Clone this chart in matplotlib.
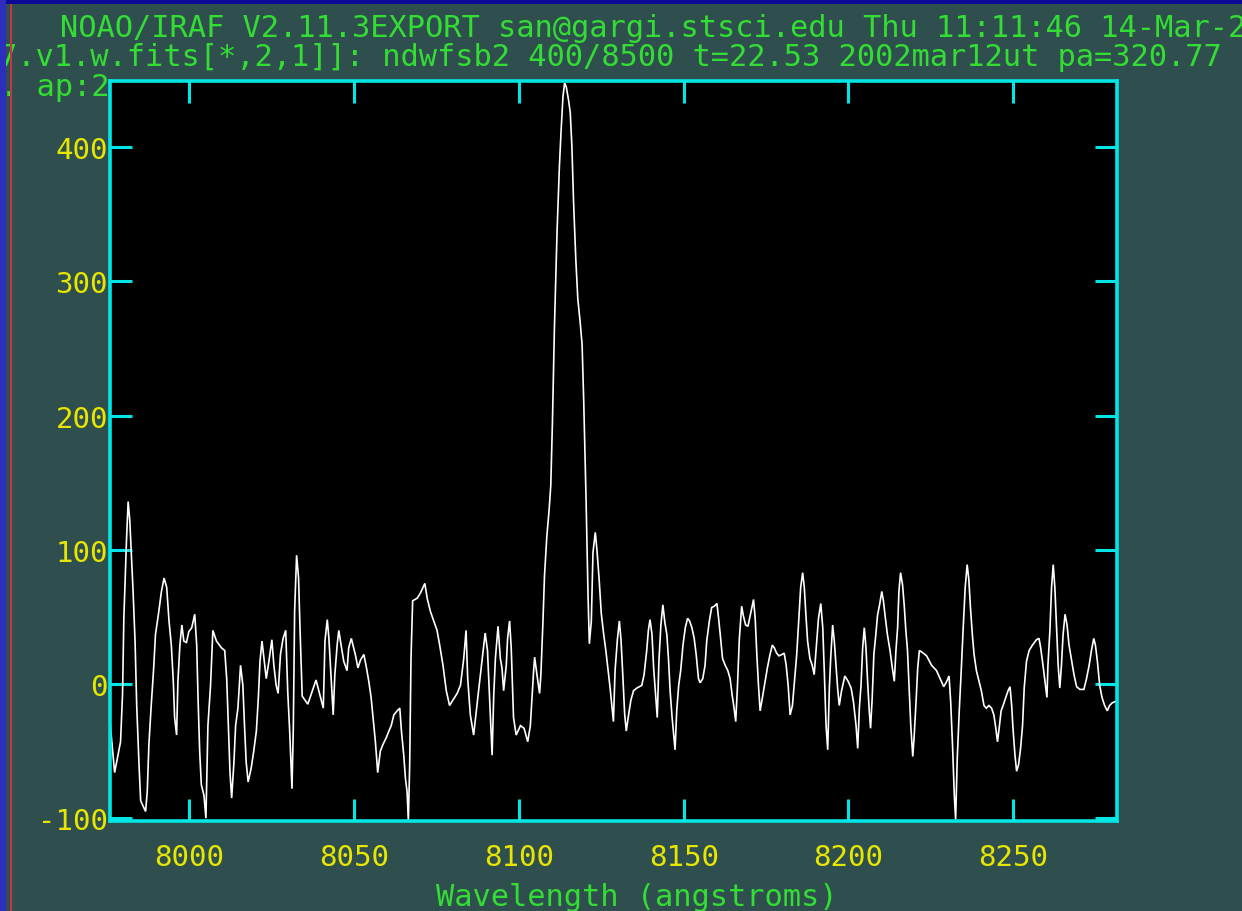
import matplotlib
matplotlib.use("Agg")
import matplotlib.pyplot as plt
from matplotlib.patches import Rectangle

# ---------------- data ----------------
wavelength = [
    7976.0, 7977.4, 7978.4, 7979.2, 7979.8, 7980.2, 7981.0, 7981.5, 7982.0, 7982.5,
    7983.0, 7983.6, 7984.1, 7984.8, 7985.3, 7986.8, 7987.3, 7987.8, 7988.5, 7989.2,
    7989.8, 7990.8, 7991.6, 7992.4, 7993.2, 7993.9, 7994.6, 7995.2, 7995.6, 7996.2,
    7996.6, 7997.2, 7997.8, 7998.4, 7999.2, 7999.9, 8000.8, 8001.7, 8002.3, 8002.7,
    8003.2, 8003.7, 8004.5, 8005.1, 8005.7, 8006.5, 8007.2, 8008.3, 8009.8, 8010.8,
    8011.4, 8011.9, 8012.4, 8012.9, 8013.6, 8014.1, 8014.8, 8015.6, 8016.3, 8016.8,
    8017.3, 8017.9, 8018.8, 8019.6, 8020.4, 8021.0, 8021.5, 8022.1, 8022.7, 8023.4,
    8024.2, 8025.1, 8025.7, 8026.4, 8027.0, 8027.7, 8028.5, 8029.3, 8029.9, 8030.5,
    8031.2, 8031.6, 8032.0, 8032.6, 8033.2, 8033.6,
    8034.3, 8036.0, 8038.5, 8040.7, 8041.2, 8041.9, 8042.4, 8042.9, 8043.4, 8043.7,
    8044.2, 8044.9, 8045.4, 8046.1, 8046.9, 8047.9, 8048.4, 8049.2, 8050.5, 8051.2,
    8052.0, 8053.0, 8053.8, 8054.5, 8055.2, 8055.8, 8056.5, 8057.2, 8058.0, 8058.8,
    8059.8, 8060.6, 8061.3, 8062.1, 8063.1, 8063.9, 8064.4, 8065.1, 8065.6, 8066.1,
    8066.5, 8066.9, 8067.3, 8067.8, 8069.2, 8070.2, 8071.5, 8072.2, 8073.2, 8074.2,
    8075.2, 8076.0, 8077.0, 8078.0, 8079.0, 8080.0, 8081.3, 8082.3, 8083.3, 8084.0,
    8084.5, 8085.3, 8086.3, 8087.1, 8087.8, 8088.9, 8089.8, 8090.5, 8091.1, 8091.9,
    8092.4, 8092.9, 8093.7, 8094.4, 8094.9, 8095.4, 8096.2, 8096.6, 8097.2, 8097.7,
    8098.4, 8099.2,
    8100.5, 8101.6, 8102.7, 8103.5, 8104.0, 8104.5, 8104.8, 8105.5, 8106.3, 8106.7,
    8107.3, 8107.8, 8108.5, 8109.2, 8109.7, 8110.2, 8110.8, 8111.6, 8112.3, 8112.8,
    8113.4, 8113.9, 8114.4, 8115.1, 8115.6, 8116.1, 8116.6, 8117.3, 8117.9, 8118.6,
    8119.2, 8119.7, 8120.4, 8121.0, 8121.4,
    8122.0, 8122.5, 8123.2, 8123.7, 8124.4, 8125.0, 8125.7, 8126.4, 8127.1, 8127.7,
    8128.7, 8129.2, 8129.9, 8130.5, 8131.0, 8131.6, 8132.1, 8132.6, 8133.3, 8134.0,
    8134.8, 8135.8, 8137.3, 8138.0, 8138.8, 8139.3, 8139.8, 8140.4, 8140.9, 8141.5,
    8142.0, 8142.5, 8143.1, 8143.7, 8144.3, 8144.9, 8145.4, 8145.9, 8146.5, 8147.0,
    8147.4, 8147.9, 8148.5, 8149.1, 8149.8, 8150.5, 8151.2, 8151.8, 8152.5, 8153.2,
    8153.8, 8154.5, 8155.0, 8155.8, 8156.5, 8157.0, 8157.8, 8158.5, 8159.3, 8160.1,
    8160.6, 8161.1, 8161.8, 8162.6, 8163.4, 8164.1, 8164.7, 8165.3, 8165.8, 8166.3,
    8166.9, 8167.6, 8168.1, 8168.8, 8169.5, 8170.2, 8170.7, 8171.2, 8171.7, 8172.2,
    8172.7, 8173.2, 8173.9, 8174.7, 8175.4, 8176.2, 8176.9, 8177.5, 8178.2, 8178.9,
    8179.8, 8180.5, 8181.1, 8181.7, 8182.3, 8183.0, 8183.6, 8184.3, 8184.9, 8185.5,
    8186.1, 8186.6, 8187.1, 8187.6, 8188.3, 8189.0, 8189.6, 8190.4, 8190.9, 8191.6,
    8192.2, 8192.7, 8193.2, 8193.7, 8194.2, 8194.6, 8195.2, 8195.7, 8196.2, 8196.7,
    8197.2, 8197.9, 8198.9, 8199.9,
    8200.8, 8201.5, 8202.3, 8202.8, 8203.3, 8203.8, 8204.3, 8204.8, 8205.3, 8205.8,
    8206.3, 8206.7, 8207.2, 8207.7, 8208.3, 8208.8, 8209.5, 8210.1, 8210.6, 8211.1,
    8211.8, 8212.6, 8213.3, 8213.9, 8214.4, 8214.9, 8215.3, 8215.8, 8216.4, 8216.9,
    8217.4, 8217.9, 8218.4, 8218.9, 8219.5, 8219.9, 8220.5, 8221.0, 8221.5, 8222.7,
    8223.7, 8225.2, 8226.7, 8228.0, 8228.9, 8229.8, 8230.5, 8231.0, 8231.6, 8232.1,
    8232.5, 8233.0, 8233.6, 8234.2, 8234.8, 8235.4, 8236.0, 8236.5, 8237.0, 8237.6,
    8238.1, 8238.8, 8239.5, 8240.3, 8241.1, 8241.8, 8242.6, 8243.4, 8244.1, 8244.7,
    8245.2, 8245.7, 8246.3, 8246.9, 8247.7, 8248.4, 8249.0, 8249.5, 8249.9, 8250.5,
    8251.0, 8251.6, 8252.2, 8252.8, 8253.3, 8254.0, 8254.8, 8255.8, 8257.0, 8257.8,
    8258.3, 8259.0, 8259.6, 8260.2, 8260.5, 8261.1, 8261.6, 8262.1, 8262.6, 8263.1,
    8263.6, 8264.1, 8264.6, 8265.1, 8265.7, 8266.3, 8266.9, 8267.7, 8268.4, 8269.2,
    8270.2, 8271.4, 8272.2, 8273.0, 8273.7, 8274.4, 8274.9, 8275.5, 8276.2, 8276.9,
    8277.7, 8278.5, 8279.2, 8280.0, 8281.0, 8281.6,
]

flux = [
    -28, -66, -53, -43, -8, 49, 107, 136, 122, 96,
    69, 32, -16, -60, -87, -95, -80, -45, -16, 10,
    37, 54, 69, 79, 72, 47, 29, 2, -25, -38,
    2, 29, 44, 32, 31, 39, 42, 52, 29, -10,
    -50, -75, -83, -100, -31, -1, 40, 32, 27, 25,
    4, -31, -66, -85, -58, -31, -18, 14, -1, -31,
    -58, -73, -63, -50, -35, -10, 17, 32, 19, 4,
    17, 33, 14, -1, -7, 22, 34, 40, -5, -35,
    -78, -33, 54, 96, 79, 44,
    -9, -15, 3, -18, 32, 48, 34, 12, -10, -23,
    7, 29, 40, 29, 17, 10, 27, 34, 21, 12,
    18, 22, 12, 2, -10, -25, -43, -66, -50, -45,
    -40, -35, -31, -23, -20, -18, -35, -53, -70, -80,
    -102, -60, 19, 62, 64, 68, 75, 64, 54, 47,
    40, 29, 14, -5, -16, -12, -7, -1, 19, 40,
    4, -23, -38, -20, -5, 19, 38, 25, -8, -53,
    -8, 19, 43, 19, 12, -5, 14, 34, 47, 27,
    -25, -38,
    -31, -33, -43, -31, -10, 10, 20, 7, -7, 7,
    45, 81, 110, 130, 148, 195, 265, 337, 385, 411,
    438, 448, 445, 435, 426, 401, 360, 316, 287, 270,
    253, 210, 138, 66, 30,
    47, 98, 113, 100, 77, 53, 38, 25, 10, -3,
    -28, 10, 33, 47, 33, 4, -22, -35, -23, -12,
    -5, -3, -1, 7, 25, 40, 48, 37, 12, -8,
    -25, 17, 44, 59, 46, 37, 19, -5, -25, -38,
    -49, -20, -1, 10, 29, 42, 49, 47, 42, 34,
    22, 4, 1, 4, 14, 32, 47, 57, 58, 60,
    49, 37, 19, 14, 10, 4, -8, -18, -28, -3,
    34, 58, 51, 44, 43, 51, 57, 63, 49, 22,
    -1, -20, -10, 2, 12, 22, 29, 27, 23, 21,
    22, 23, 14, -1, -23, -16, 2, 22, 47, 72,
    83, 72, 51, 32, 19, 14, 7, 33, 49, 60,
    42, 7, -31, -49, -3, 19, 44, 32, 14, -3,
    -16, -5, 6, 2,
    -3, -13, -31, -48, -18, -1, 27, 42, 27, 2,
    -20, -33, -10, 22, 37, 51, 60, 69, 62, 51,
    37, 25, 12, 2, 25, 42, 69, 83, 74, 59,
    40, 25, -3, -31, -54, -40, -13, 12, 25, 23,
    21, 14, 10, 3, -2, 2, 6, -13, -48, -83,
    -101, -55, -20, 10, 42, 72, 89, 78, 57, 36,
    22, 10, 3, -5, -16, -18, -16, -18, -23, -33,
    -43, -33, -20, -16, -10, -5, -2, -16, -33, -53,
    -65, -60, -48, -31, -3, 17, 25, 29, 33, 34,
    27, 14, 2, -10, 14, 40, 72, 89, 72, 42,
    14, -3, 14, 37, 52, 44, 29, 17, 7, -2,
    -4, -4, 4, 14, 25, 34, 29, 17, -1, -10,
    -16, -20, -16, -14, -13, -12,
]

x_ticks = [8000, 8050, 8100, 8150, 8200, 8250]
y_ticks = [-100, 0, 100, 200, 300, 400]
x_limits = (7976.0, 8281.45)
y_limits = (-101.7, 449.4)

title_lines = [
    "NOAO/IRAF V2.11.3EXPORT san@gargi.stsci.edu Thu 11:11:46 14-Mar-2002",
    "7.v1.w.fits[*,2,1]]: ndwfsb2 400/8500 t=22.53 2002mar12ut pa=320.77",
    ". ap:2",
]
x_label = "Wavelength (angstroms)"

# ---------------- style ----------------
W, H = 1242, 912
BG = "#2F4F4F"
CYAN = "#00E6E6"
YELLOW = "#E6E600"
GREEN = "#33DD33"
MONO = "DejaVu Sans Mono"

fig = plt.figure(figsize=(W / 100, H / 100), dpi=100)
fig.patch.set_facecolor(BG)

left, right, top, bottom = 110, 1117, 82, 821.5
ax = fig.add_axes([left / W, 1 - bottom / H, (right - left) / W, (bottom - top) / H])
ax.set_facecolor("black")

ax.plot(wavelength, flux, color="white", lw=1.2, solid_joinstyle="miter")

ax.set_xlim(*x_limits)
ax.set_ylim(*y_limits)
ax.set_xticks(x_ticks)
ax.set_yticks(y_ticks)
ax.set_xticklabels([str(t) for t in x_ticks])
ax.set_yticklabels([str(t) for t in y_ticks])

for s in ax.spines.values():
    s.set_color(CYAN)
    s.set_linewidth(2.6)

ax.tick_params(axis="both", which="major", direction="in", length=16,
               width=2.2, color=CYAN, top=True, right=True,
               labelcolor=YELLOW, labelsize=21)
ax.tick_params(axis="x", pad=16.2)
ax.tick_params(axis="y", pad=1.5)
for lab in ax.get_xticklabels() + ax.get_yticklabels():
    lab.set_family(MONO)

# header lines (IRAF style)
title_fs = 21.85
fig.text(59.5 / W, 1 - 37 / H, title_lines[0], color=GREEN, fontsize=title_fs,
         family=MONO, ha="left", va="baseline")
fig.text(-1 / W, 1 - 66 / H, title_lines[1], color=GREEN, fontsize=title_fs,
         family=MONO, ha="left", va="baseline")
fig.text(0 / W, 1 - 96 / H, title_lines[2], color=GREEN, fontsize=title_fs,
         family=MONO, ha="left", va="baseline", zorder=-1)

# x-axis label
fig.text(637 / W, 6 / H, x_label, color=GREEN, fontsize=title_fs,
         family=MONO, ha="center", va="baseline")

# window decoration strips of the screenshot
band = 5
fig.add_artist(Rectangle((0, 1 - band / H), 1, band / H, transform=fig.transFigure,
                         facecolor="#0A0A96", edgecolor="none", zorder=20))
fig.add_artist(Rectangle((0, 0), 6 / W, 1, transform=fig.transFigure,
                         facecolor="#2E2EBE", edgecolor="none", zorder=21))
fig.add_artist(Rectangle((9.5 / W, 0), 2.5 / W, 1 - band / H, transform=fig.transFigure,
                         facecolor="#C8324A", edgecolor="none", zorder=21))

fig.savefig("out.png", dpi=100, facecolor=BG)
